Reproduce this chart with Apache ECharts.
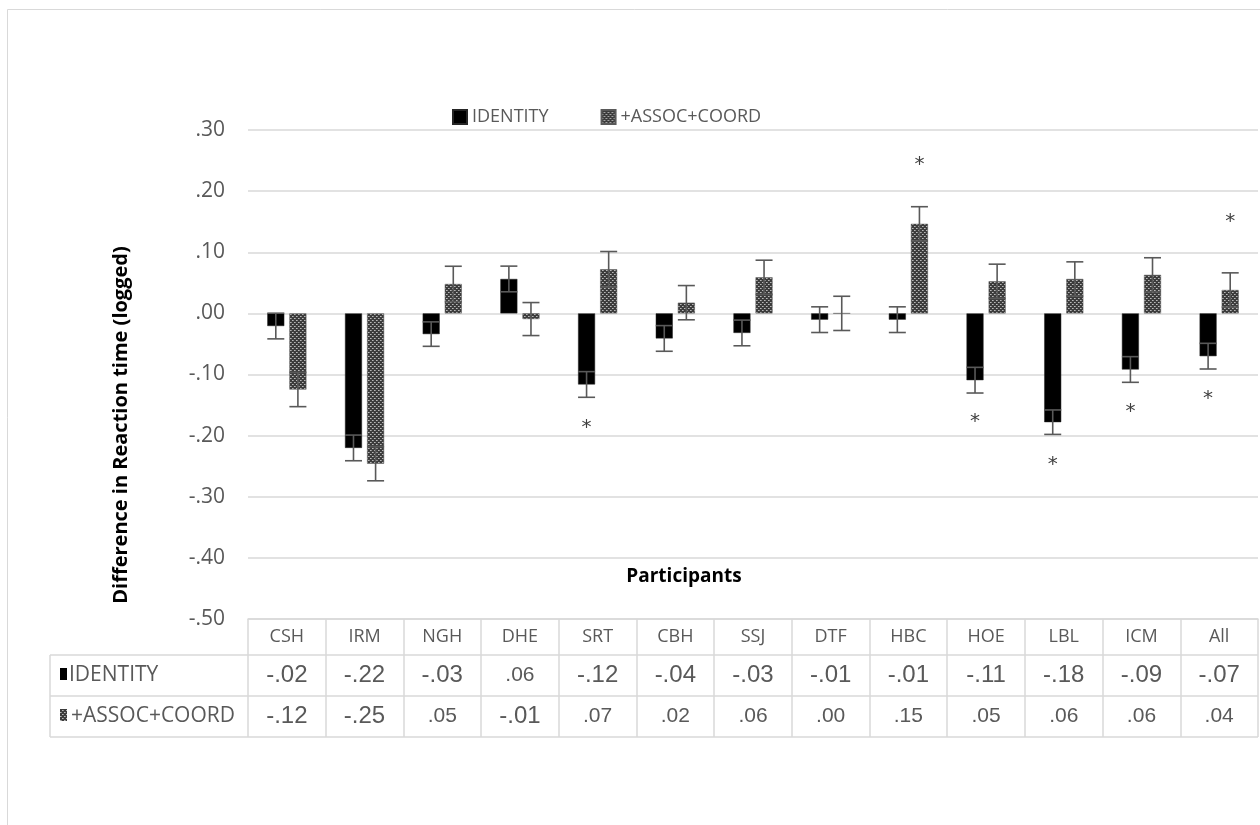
<!DOCTYPE html>
<html>
<head>
<meta charset="utf-8">
<script src="https://cdn.jsdelivr.net/npm/echarts@6/dist/echarts.min.js"></script>
<style>
  html, body { margin: 0; padding: 0; background: #fff; }
  #chart { width: 1260px; height: 825px; }
</style>
</head>
<body>
<div id="chart"></div>
<script>
// Participants and per-participant differences in (logged) reaction time
const participants = ['CSH', 'IRM', 'NGH', 'DHE', 'SRT', 'CBH', 'SSJ', 'DTF', 'HBC', 'HOE', 'LBL', 'ICM', 'All'];
const seriesNames = ['IDENTITY', '+ASSOC+COORD'];

const identity = [-0.0207, -0.2201, -0.0339, 0.0563, -0.1163, -0.041, -0.032, -0.0103, -0.0103, -0.1093, -0.178, -0.0918, -0.070];
const assocCoord = [-0.1246, -0.2459, 0.0481, -0.0093, 0.0722, 0.0175, 0.059, 0.000, 0.1465, 0.0525, 0.0563, 0.063, 0.0383];

// Standard errors (error bar half-lengths)
const identityErr = [0.021, 0.021, 0.020, 0.021, 0.021, 0.021, 0.021, 0.021, 0.021, 0.021, 0.020, 0.021, 0.021];
const assocCoordErr = [0.028, 0.028, 0.029, 0.027, 0.029, 0.028, 0.028, 0.028, 0.028, 0.028, 0.028, 0.028, 0.028];

// Significance markers (null = not significant)
const identityStar = [null, null, null, null, -0.180, null, null, null, null, -0.171, -0.2415, -0.154, -0.133];
const assocCoordStar = [null, null, null, null, null, null, null, null, 0.249, null, null, null, 0.156];

// Y axis ticks
const yMin = -0.5, yMax = 0.3, yStep = 0.1;

const FONT = '"Open Sans", sans-serif';
const NUM_FONT = '"Liberation Sans", Arial, sans-serif';
const TEXT_COLOR = '#595959';
const LINE_COLOR = '#d9d9d9';

// Layout
const GRID = { left: 248, right: 2, top: 130, bottom: 206 };
const BAR_W = 17;
const BAR_GAP_PX = 5.1;
const HALF_STEP = (BAR_W + BAR_GAP_PX) / 2;
const TABLE_TOP = 619, ROW_NAME_H = 36, ROW_H = 41;
const TABLE_LEFT = 50, TABLE_RIGHT = 1258;
const TABLE_BOTTOM = TABLE_TOP + ROW_NAME_H + 2 * ROW_H;

// Grey dotted fill for the second series
function makePattern() {
  const c = document.createElement('canvas');
  c.width = 4; c.height = 4;
  const g = c.getContext('2d');
  g.fillStyle = '#3c3c3c';
  g.fillRect(0, 0, 4, 4);
  g.fillStyle = '#b8b8b8';
  g.fillRect(0, 0, 1, 1);
  g.fillRect(2, 2, 1, 1);
  g.fillStyle = '#8a8a8a';
  g.fillRect(1, 0, 1, 1);
  g.fillRect(3, 2, 1, 1);
  return c;
}
const patternFill = { image: makePattern(), repeat: 'repeat' };

function fmtTick(v) {
  const r = Math.round(v * 100) / 100;
  const s = Math.abs(r).toFixed(2).replace(/^0/, '');
  return (r < 0 ? '-' : '') + s;
}

function cell(v) {
  const r = Math.round(v * 100) / 100;
  const cls = r < 0 ? 'neg' : 'pos';
  return '{' + cls + '|' + fmtTick(v) + '}';
}

function errorData(vals, errs) {
  return vals.map((v, i) => [i, v, errs[i]]);
}
function starData(stars) {
  const out = [];
  stars.forEach((s, i) => { if (s !== null) out.push([i, s]); });
  return out;
}

function errorRenderer(offset) {
  return function (params, api) {
    const cat = api.value(0), v = api.value(1), e = api.value(2);
    const x = api.coord([cat, v])[0] + offset;
    const yTop = api.coord([cat, v + e])[1];
    const yBot = api.coord([cat, v - e])[1];
    const half = BAR_W / 2;
    const style = { stroke: TEXT_COLOR, lineWidth: 1.6, fill: null };
    return {
      type: 'group',
      children: [
        { type: 'line', shape: { x1: x, y1: yTop, x2: x, y2: yBot }, style },
        { type: 'line', shape: { x1: x - half, y1: yTop, x2: x + half, y2: yTop }, style },
        { type: 'line', shape: { x1: x - half, y1: yBot, x2: x + half, y2: yBot }, style }
      ]
    };
  };
}

function starRenderer(offset) {
  return function (params, api) {
    const p = api.coord([api.value(0), api.value(1)]);
    return {
      type: 'text',
      x: p[0] + offset,
      y: p[1] + 4,
      style: {
        text: '*',
        font: '20px "DejaVu Sans", sans-serif',
        fill: '#404040',
        align: 'center',
        verticalAlign: 'middle'
      }
    };
  };
}

const chart = echarts.init(document.getElementById('chart'), null, { renderer: 'canvas' });

const option = {
  backgroundColor: '#fff',
  animation: false,
  textStyle: { fontFamily: FONT },
  grid: GRID,
  legend: {
    data: seriesNames,
    left: 452,
    top: 108,
    padding: 0,
    itemGap: 52,
    itemWidth: 14,
    itemHeight: 14,
    icon: 'rect',
    textStyle: { fontFamily: FONT, fontSize: 18, color: TEXT_COLOR }
  },
  xAxis: {
    type: 'category',
    data: participants,
    boundaryGap: true,
    axisLine: { show: true, onZero: false, lineStyle: { color: LINE_COLOR, width: 1.5 } },
    axisTick: {
      show: true, interval: 0, alignWithLabel: false,
      length: TABLE_BOTTOM - TABLE_TOP,
      lineStyle: { color: LINE_COLOR, width: 1.5 }
    },
    axisLabel: {
      interval: 0,
      margin: 0,
      color: TEXT_COLOR,
      formatter: function (name, idx) {
        return '{n|' + name + '}\n' + cell(identity[idx]) + '\n' + cell(assocCoord[idx]);
      },
      rich: {
        n: { fontFamily: FONT, fontSize: 18, color: TEXT_COLOR, lineHeight: ROW_NAME_H },
        neg: { fontFamily: NUM_FONT, fontSize: 24, color: TEXT_COLOR, lineHeight: ROW_H },
        pos: { fontFamily: NUM_FONT, fontSize: 21, color: TEXT_COLOR, lineHeight: ROW_H }
      }
    },
    splitLine: { show: false }
  },
  yAxis: {
    type: 'value',
    min: yMin,
    max: yMax,
    interval: yStep,
    axisLine: { show: false },
    axisTick: { show: false },
    axisLabel: { formatter: fmtTick, fontSize: 21, color: TEXT_COLOR, margin: 23, fontFamily: FONT },
    splitLine: { lineStyle: { color: LINE_COLOR, width: 1.5 } }
  },
  series: [
    {
      name: seriesNames[0],
      type: 'bar',
      data: identity,
      barWidth: BAR_W,
      barGap: (BAR_GAP_PX / BAR_W * 100).toFixed(1) + '%',
      itemStyle: { color: '#000', borderColor: '#262626', borderWidth: 0.5 },
      z: 2
    },
    {
      name: seriesNames[1],
      type: 'bar',
      data: assocCoord,
      barWidth: BAR_W,
      itemStyle: { color: patternFill, borderColor: '#595959', borderWidth: 0.5 },
      z: 2
    },
    {
      type: 'custom',
      data: errorData(identity, identityErr),
      renderItem: errorRenderer(-HALF_STEP),
      encode: { x: 0, y: 1 },
      z: 5,
      silent: true
    },
    {
      type: 'custom',
      data: errorData(assocCoord, assocCoordErr),
      renderItem: errorRenderer(HALF_STEP),
      encode: { x: 0, y: 1 },
      z: 5,
      silent: true
    },
    {
      type: 'custom',
      data: starData(identityStar),
      renderItem: starRenderer(-HALF_STEP),
      encode: { x: 0, y: 1 },
      z: 5,
      silent: true
    },
    {
      type: 'custom',
      data: starData(assocCoordStar),
      renderItem: starRenderer(HALF_STEP),
      encode: { x: 0, y: 1 },
      z: 5,
      silent: true
    }
  ],
  graphic: [
    // outer chart frame
    { type: 'rect', shape: { x: 7.5, y: 9.5, width: 1300, height: 900 },
      style: { fill: null, stroke: LINE_COLOR, lineWidth: 1 }, silent: true },
    // value axis title
    { type: 'text', x: 121, y: 425, rotation: Math.PI / 2,
      style: { text: 'Difference in Reaction time (logged)', font: 'bold 20px ' + FONT, fill: '#000',
               align: 'center', verticalAlign: 'middle' } },
    // category axis title
    { type: 'text', x: 684, y: 577,
      style: { text: 'Participants', font: 'bold 19px ' + FONT, fill: '#000', align: 'center', verticalAlign: 'middle' } },
    // data table rows
    { type: 'line', shape: { x1: TABLE_LEFT, y1: TABLE_TOP + ROW_NAME_H, x2: TABLE_RIGHT, y2: TABLE_TOP + ROW_NAME_H },
      style: { stroke: LINE_COLOR, lineWidth: 1.5 } },
    { type: 'line', shape: { x1: TABLE_LEFT, y1: TABLE_TOP + ROW_NAME_H + ROW_H, x2: TABLE_RIGHT, y2: TABLE_TOP + ROW_NAME_H + ROW_H },
      style: { stroke: LINE_COLOR, lineWidth: 1.5 } },
    { type: 'line', shape: { x1: TABLE_LEFT, y1: TABLE_BOTTOM, x2: TABLE_RIGHT, y2: TABLE_BOTTOM },
      style: { stroke: LINE_COLOR, lineWidth: 1.5 } },
    { type: 'line', shape: { x1: TABLE_LEFT, y1: TABLE_TOP + ROW_NAME_H, x2: TABLE_LEFT, y2: TABLE_BOTTOM },
      style: { stroke: LINE_COLOR, lineWidth: 1.5 } },
    // data table row keys
    { type: 'rect', shape: { x: 60, y: 668, width: 7, height: 12 }, style: { fill: '#000' } },
    { type: 'text', x: 69, y: TABLE_TOP + ROW_NAME_H + ROW_H / 2,
      style: { text: seriesNames[0], font: '21px ' + FONT, fill: TEXT_COLOR, verticalAlign: 'middle' } },
    { type: 'rect', shape: { x: 60, y: 709, width: 7, height: 12 }, style: { fill: patternFill } },
    { type: 'text', x: 71, y: TABLE_TOP + ROW_NAME_H + ROW_H * 1.5,
      style: { text: seriesNames[1], font: '21px ' + FONT, fill: TEXT_COLOR, verticalAlign: 'middle' } }
  ]
};

chart.setOption(option);
</script>
</body>
</html>
